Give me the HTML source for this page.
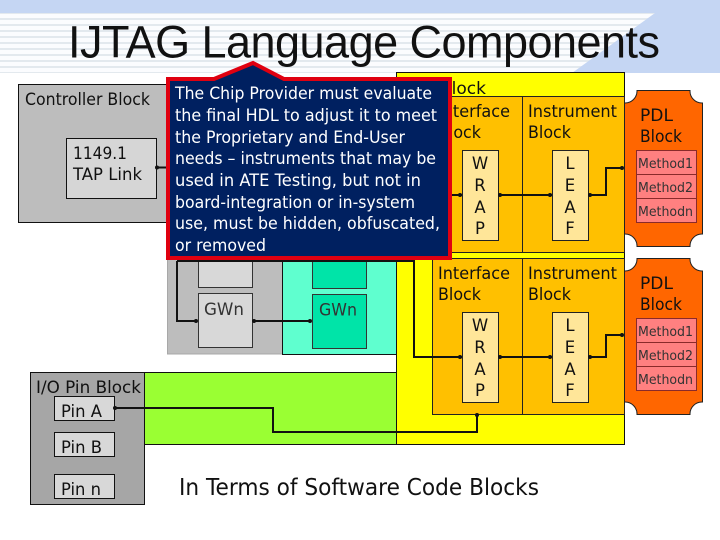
<!DOCTYPE html>
<html><head><meta charset="utf-8"><style>html,body{margin:0;padding:0;background:#fff}svg{display:block}text{font-family:"DejaVu Sans","Liberation Sans",sans-serif;fill:#111}</style></head><body>
<svg width="720" height="540" viewBox="0 0 720 540" xmlns="http://www.w3.org/2000/svg">
<defs><pattern id="st" x="0" y="14" width="6" height="6" patternUnits="userSpaceOnUse"><rect width="6" height="6" fill="#fbfcfe"/><rect y="4" width="6" height="2" fill="#e3e9ee"/></pattern></defs>
<rect width="720" height="73" fill="#c5d6f3"/>
<polygon points="0,13 655,13 572,73 0,73" fill="url(#st)"/>
<text x="68" y="57.500" font-size="45" textLength="592" lengthAdjust="spacing" style="font-family:'Liberation Sans',sans-serif">IJTAG Language Components</text>

<rect x="18.500" y="84.500" width="160" height="138" fill="#bdbdbd" stroke="#111"/>
<text x="25" y="105" font-size="16.500" textLength="125" lengthAdjust="spacingAndGlyphs">Controller Block</text>
<rect x="66.500" y="138.500" width="90" height="60" fill="#d6d6d6" stroke="#111"/>
<text x="73" y="159" font-size="16.500" textLength="54" lengthAdjust="spacingAndGlyphs">1149.1</text>
<text x="73" y="180" font-size="16.500" textLength="69" lengthAdjust="spacingAndGlyphs">TAP Link</text>
<line x1="156" y1="167.500" x2="170" y2="167.500" stroke="#111" stroke-width="2"/>

<rect x="167.500" y="250" width="115" height="104" fill="#bdbdbd" stroke="#a8a8a8"/>
<rect x="282.500" y="250" width="114" height="104.500" fill="#5fffcf" stroke="#111"/>
<rect x="198.500" y="250" width="54" height="37.500" fill="#d8d8d8" stroke="#333"/>
<rect x="198.500" y="293.500" width="54" height="54" fill="#d8d8d8" stroke="#333"/>
<rect x="312.500" y="250" width="54" height="38.500" fill="#00e4a8" stroke="#333"/>
<rect x="312.500" y="294.500" width="54" height="54" fill="#00e4a8" stroke="#333"/>
<text x="204" y="315" font-size="17" style="fill:#333" textLength="40" lengthAdjust="spacingAndGlyphs">GWn</text>
<text x="319" y="315.500" font-size="17" style="fill:#333" textLength="38" lengthAdjust="spacingAndGlyphs">GWn</text>

<rect x="144.500" y="372.500" width="252" height="72" fill="#9aff33" stroke="#111"/>
<rect x="396.500" y="72.500" width="228" height="372" fill="#ffff00" stroke="#111"/>
<text x="440" y="94" font-size="16.500" textLength="46" lengthAdjust="spacingAndGlyphs">Block</text>

<g stroke="#222" fill="#ffc000">
<rect x="432.500" y="96.500" width="192" height="156"/><line x1="522.500" y1="96.500" x2="522.500" y2="252.500"/>
<rect x="432.500" y="258.500" width="192" height="156"/><line x1="522.500" y1="258.500" x2="522.500" y2="414.500"/>
</g>
<g font-size="16.500">
<text x="438" y="117" textLength="72" lengthAdjust="spacingAndGlyphs">Interface</text><text x="438" y="138" textLength="43" lengthAdjust="spacingAndGlyphs">Block</text>
<text x="528" y="117" textLength="89" lengthAdjust="spacingAndGlyphs">Instrument</text><text x="528" y="138" textLength="43" lengthAdjust="spacingAndGlyphs">Block</text>
<text x="438" y="279" textLength="72" lengthAdjust="spacingAndGlyphs">Interface</text><text x="438" y="300" textLength="43" lengthAdjust="spacingAndGlyphs">Block</text>
<text x="528" y="279" textLength="89" lengthAdjust="spacingAndGlyphs">Instrument</text><text x="528" y="300" textLength="43" lengthAdjust="spacingAndGlyphs">Block</text>
</g>
<g fill="#ffe699" stroke="#222">
<rect x="462.500" y="150.500" width="36" height="90"/><rect x="552.500" y="150.500" width="36" height="90"/>
<rect x="462.500" y="312.500" width="36" height="90"/><rect x="552.500" y="312.500" width="36" height="90"/>
</g>
<g font-size="16.500" text-anchor="middle">
<text x="480" y="169">W</text><text x="480" y="191">R</text><text x="480" y="213">A</text><text x="480" y="234">P</text>
<text x="570" y="169">L</text><text x="570" y="191">E</text><text x="570" y="213">A</text><text x="570" y="234">F</text>
<text x="480" y="331">W</text><text x="480" y="353">R</text><text x="480" y="375">A</text><text x="480" y="396">P</text>
<text x="570" y="331">L</text><text x="570" y="353">E</text><text x="570" y="375">A</text><text x="570" y="396">F</text>
</g>

<g fill="#ff6600" stroke="#222">
<path d="M637,90.500 H690 A12,12 0 0 0 702.500,103 V234 A12,12 0 0 0 690,246.500 H637 A12,12 0 0 0 624.500,234 V103 A12,12 0 0 0 637,90.500 Z"/>
<path d="M637,258.500 H690 A12,12 0 0 0 702.500,271 V402 A12,12 0 0 0 690,414.500 H637 A12,12 0 0 0 624.500,402 V271 A12,12 0 0 0 637,258.500 Z"/>
</g>
<g font-size="16.500"><text x="640" y="121" textLength="33" lengthAdjust="spacingAndGlyphs">PDL</text><text x="640" y="142" textLength="42" lengthAdjust="spacingAndGlyphs">Block</text>
<text x="640" y="289" textLength="33" lengthAdjust="spacingAndGlyphs">PDL</text><text x="640" y="310" textLength="42" lengthAdjust="spacingAndGlyphs">Block</text></g>
<g fill="#ff8080" stroke="#8a2a2a">
<rect x="636.500" y="150.500" width="60" height="24"/><rect x="636.500" y="174.500" width="60" height="24"/><rect x="636.500" y="198.500" width="60" height="24"/>
<rect x="636.500" y="318.500" width="60" height="24"/><rect x="636.500" y="342.500" width="60" height="24"/><rect x="636.500" y="366.500" width="60" height="24"/>
</g>
<g font-size="13.500">
<text style="fill:#333" x="638" y="168" textLength="55" lengthAdjust="spacingAndGlyphs">Method1</text><text style="fill:#333" x="638" y="192" textLength="55" lengthAdjust="spacingAndGlyphs">Method2</text><text style="fill:#333" x="638" y="216" textLength="55" lengthAdjust="spacingAndGlyphs">Methodn</text>
<text style="fill:#333" x="638" y="336" textLength="55" lengthAdjust="spacingAndGlyphs">Method1</text><text style="fill:#333" x="638" y="360" textLength="55" lengthAdjust="spacingAndGlyphs">Method2</text><text style="fill:#333" x="638" y="384" textLength="55" lengthAdjust="spacingAndGlyphs">Methodn</text>
</g>

<rect x="30.500" y="372.500" width="114" height="132" fill="#a6a6a6" stroke="#111"/>
<text x="36" y="393" font-size="16.500" textLength="105" lengthAdjust="spacingAndGlyphs">I/O Pin Block</text>
<g fill="#d8d8d8" stroke="#111"><rect x="54.500" y="396.500" width="60" height="24"/><rect x="54.500" y="432.500" width="60" height="24"/><rect x="54.500" y="474.500" width="60" height="24"/></g>
<g font-size="16.500"><text x="61" y="417" textLength="41" lengthAdjust="spacingAndGlyphs">Pin A</text><text x="61" y="453" textLength="41" lengthAdjust="spacingAndGlyphs">Pin B</text><text x="61" y="495" textLength="40" lengthAdjust="spacingAndGlyphs">Pin n</text></g>

<g fill="none" stroke="#111" stroke-width="2">
<path d="M115,408 H273 V432 H477 V415"/>
<path d="M177,261 V321 H197"/><path d="M253,321 H311"/>
<path d="M177,261 H414 V357 H462"/>
<path d="M499,357 H552"/><path d="M589,357 H606 V335 H622"/>
<path d="M499,195 H552"/><path d="M589,195 H606 V168 H622"/>
<path d="M430,195 H462"/>
</g>
<g fill="#111">
<circle cx="115" cy="408" r="2"/><circle cx="477" cy="415" r="2"/><circle cx="196" cy="321" r="2"/><circle cx="254" cy="321" r="2"/><circle cx="310" cy="321" r="2"/>
<circle cx="460" cy="357" r="2"/><circle cx="500" cy="357" r="2"/><circle cx="550" cy="357" r="2"/><circle cx="590" cy="357" r="2"/><circle cx="622" cy="335" r="2"/>
<circle cx="460" cy="195" r="2"/><circle cx="500" cy="195" r="2"/><circle cx="550" cy="195" r="2"/><circle cx="590" cy="195" r="2"/><circle cx="622" cy="168" r="2"/>
<circle cx="157" cy="167.500" r="2"/>
</g>

<polygon points="168,79 214,79 253,63 284,79 450,79 450,258 168,258" fill="#002060" stroke="#e00010" stroke-width="4"/>
<g font-size="16.500">
<text style="fill:#fff" x="175" y="99" textLength="257" lengthAdjust="spacingAndGlyphs">The Chip Provider must evaluate</text>
<text style="fill:#fff" x="175" y="121" textLength="262" lengthAdjust="spacingAndGlyphs">the final HDL to adjust it to meet</text>
<text style="fill:#fff" x="175" y="143" textLength="230" lengthAdjust="spacingAndGlyphs">the Proprietary and End-User</text>
<text style="fill:#fff" x="175" y="164" textLength="261" lengthAdjust="spacingAndGlyphs">needs – instruments that may be</text>
<text style="fill:#fff" x="175" y="186" textLength="246" lengthAdjust="spacingAndGlyphs">used in ATE Testing, but not in</text>
<text style="fill:#fff" x="175" y="208" textLength="240" lengthAdjust="spacingAndGlyphs">board-integration or in-system</text>
<text style="fill:#fff" x="175" y="229" textLength="265" lengthAdjust="spacingAndGlyphs">use, must be hidden, obfuscated,</text>
<text style="fill:#fff" x="175" y="251" textLength="91" lengthAdjust="spacingAndGlyphs">or removed</text>
</g>
<text x="179" y="495" font-size="23" textLength="360" lengthAdjust="spacingAndGlyphs">In Terms of Software Code Blocks</text>
</svg>
</body></html>
